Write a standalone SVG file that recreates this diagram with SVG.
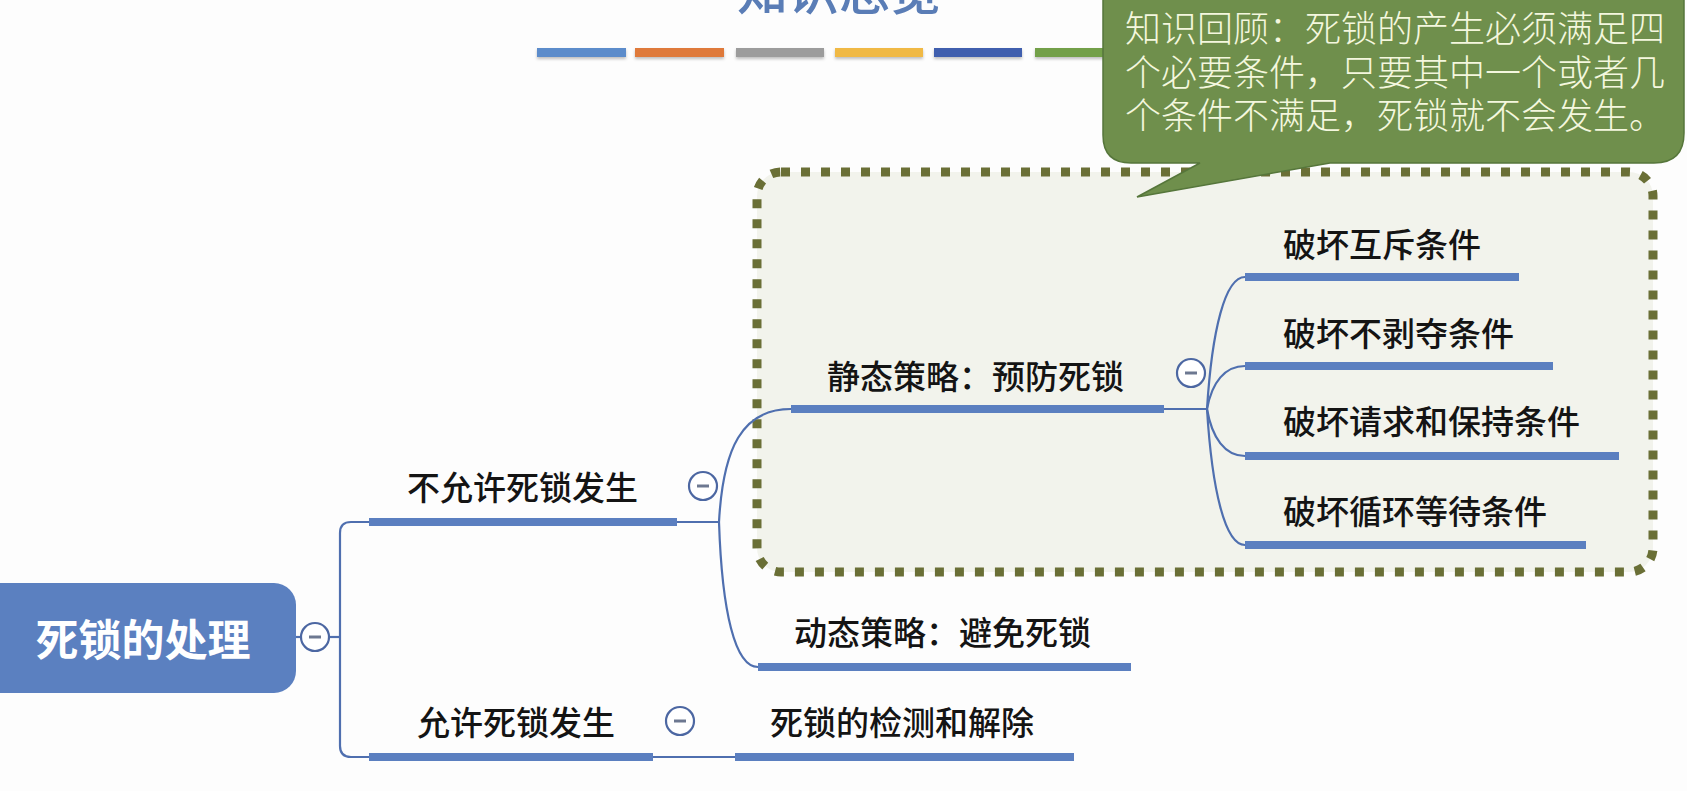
<svg xmlns="http://www.w3.org/2000/svg" width="1687" height="791" viewBox="0 0 1687 791">
  <defs>
    <style>
      .lbl { font-family: 'Noto Sans CJK SC', 'Noto Sans', sans-serif; font-size: 33px; font-weight: 500; fill: #141414; }
      .bar { stroke: #5b7fc0; stroke-width: 8; stroke-linecap: butt; fill: none; }
      .thin { stroke: #4f6faf; stroke-width: 2.2; fill: none; }
      .tog circle { fill: #ffffff; stroke: #4c67a2; stroke-width: 2.2; }
      .tog line { stroke: #6d7891; stroke-width: 3; }
      .cb { stroke: none; }
    </style>
    <filter id="sh" x="-10%" y="-50%" width="120%" height="250%">
      <feDropShadow dx="0" dy="2" stdDeviation="1.5" flood-color="#000" flood-opacity="0.25"/>
    </filter>
  </defs>
  <rect x="0" y="0" width="1687" height="791" fill="#fdfdfd"/>

  <!-- title (cut off at top) -->
  <g id="title">
    <text x="839" y="10" text-anchor="middle" font-family="'Noto Sans CJK SC', 'Noto Sans', sans-serif" font-size="51" font-weight="500" fill="#5a7db6">知识总览</text>
  </g>

  <!-- colour bars -->
  <g id="color-bars" filter="url(#sh)">
    <rect class="cb" x="537" y="48" width="89" height="9" fill="#5b8ccb"/>
    <rect class="cb" x="635" y="48" width="89" height="9" fill="#df7a3b"/>
    <rect class="cb" x="736" y="48" width="88" height="9" fill="#9c9c9c"/>
    <rect class="cb" x="835" y="48" width="88" height="9" fill="#f0b944"/>
    <rect class="cb" x="934" y="48" width="88" height="9" fill="#3f5fae"/>
    <rect class="cb" x="1035" y="48" width="88" height="9" fill="#73a049"/>
  </g>

  <!-- dotted highlight box -->
  <g id="static-box">
    <rect x="757" y="172" width="896" height="400" rx="24" ry="24" fill="#f2f3ec" stroke="#6a6f36" stroke-width="9" stroke-dasharray="9 11"/>
  </g>

  <!-- connectors -->
  <g id="connectors">
    <line class="thin" x1="296" y1="637" x2="301" y2="637"/>
    <line class="thin" x1="329" y1="637" x2="340" y2="637"/>
    <path class="thin" d="M369,522 H351 Q340,522 340,533 V746 Q340,757 351,757 H369"/>
    <line class="thin" x1="677" y1="522" x2="719" y2="522"/>
    <path class="thin" d="M719,522 C723,448 742,409 791,409"/>
    <path class="thin" d="M719,522 C722,612 735,667 758,667"/>
    <line class="thin" x1="1164" y1="409" x2="1207" y2="409"/>
    <path class="thin" d="M1207,409 C1212,330 1225,277 1245,277"/>
    <path class="thin" d="M1207,409 C1212,382 1225,366 1245,366"/>
    <path class="thin" d="M1207,409 C1212,438 1225,456 1245,456"/>
    <path class="thin" d="M1207,409 C1212,490 1225,545 1245,545"/>
    <line class="thin" x1="653" y1="757" x2="735" y2="757"/>
  </g>

  <!-- root -->
  <g id="root">
    <rect x="-24" y="583" width="320" height="110" rx="22" ry="22" fill="#5b80c0"/>
    <text x="143" y="656" text-anchor="middle" font-family="'Noto Sans CJK SC', 'Noto Sans', sans-serif" font-size="43" font-weight="700" fill="#ffffff">死锁的处理</text>
  </g>

  <g id="node-forbid">
    <line class="bar" x1="369" y1="522" x2="677" y2="522"/>
    <text class="lbl" x="407" y="500">不允许死锁发生</text>
  </g>

  <g id="node-static">
    <line class="bar" x1="791" y1="409" x2="1164" y2="409"/>
    <text class="lbl" x="827" y="389">静态策略：预防死锁</text>
  </g>

  <g id="node-c1">
    <line class="bar" x1="1245" y1="277" x2="1519" y2="277"/>
    <text class="lbl" x="1283" y="257">破坏互斥条件</text>
  </g>
  <g id="node-c2">
    <line class="bar" x1="1245" y1="366" x2="1553" y2="366"/>
    <text class="lbl" x="1283" y="346">破坏不剥夺条件</text>
  </g>
  <g id="node-c3">
    <line class="bar" x1="1245" y1="456" x2="1619" y2="456"/>
    <text class="lbl" x="1283" y="434">破坏请求和保持条件</text>
  </g>
  <g id="node-c4">
    <line class="bar" x1="1245" y1="545" x2="1586" y2="545"/>
    <text class="lbl" x="1283" y="524">破坏循环等待条件</text>
  </g>

  <g id="node-dynamic">
    <line class="bar" x1="758" y1="667" x2="1131" y2="667"/>
    <text class="lbl" x="794" y="645">动态策略：避免死锁</text>
  </g>

  <g id="node-allow">
    <line class="bar" x1="369" y1="757" x2="653" y2="757"/>
    <text class="lbl" x="417" y="735">允许死锁发生</text>
  </g>

  <g id="node-detect">
    <line class="bar" x1="735" y1="757" x2="1074" y2="757"/>
    <text class="lbl" x="770" y="735">死锁的检测和解除</text>
  </g>

  <!-- collapse toggles -->
  <g id="toggles" class="tog">
    <g><circle cx="315" cy="637" r="14"/><line x1="309" y1="637" x2="321" y2="637"/></g>
    <g><circle cx="703" cy="486" r="14"/><line x1="697" y1="486" x2="709" y2="486"/></g>
    <g><circle cx="1191" cy="373" r="14"/><line x1="1185" y1="373" x2="1197" y2="373"/></g>
    <g><circle cx="680" cy="721" r="14"/><line x1="674" y1="721" x2="686" y2="721"/></g>
  </g>

  <!-- callout -->
  <g id="callout">
    <path d="M1133,-30 H1654 Q1684,-30 1684,0 V133 Q1684,163 1654,163 H1330 L1137,197 L1200,163 H1131 Q1103,163 1103,135 V0 Q1103,-30 1133,-30 Z" fill="#6f8f4c" stroke="#56763b" stroke-width="1.5"/>
    <g font-family="'Noto Sans CJK SC', 'Noto Sans', sans-serif" font-size="36" font-weight="300" fill="#f4f7de">
      <text x="1125" y="42">知识回顾：死锁的产生必须满足四</text>
      <text x="1125" y="86">个必要条件，只要其中一个或者几</text>
      <text x="1125" y="129">个条件不满足，死锁就不会发生。</text>
    </g>
  </g>
</svg>
